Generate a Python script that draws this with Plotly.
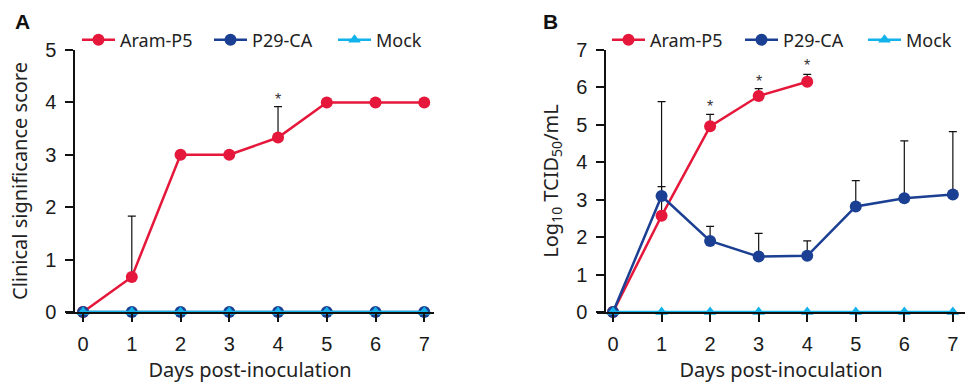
import plotly.graph_objects as go

days = [0, 1, 2, 3, 4, 5, 6, 7]
days_b_aram = [0, 1, 2, 3, 4]

# Panel A: clinical significance score
a_aram = [0, 0.67, 3, 3, 3.33, 4, 4, 4]
a_aram_err = [None, 1.16, None, None, 0.59, None, None, None]
a_p29 = [0, 0, 0, 0, 0, 0, 0, 0]
a_mock = [0, 0, 0, 0, 0, 0, 0, 0]
a_star_days = [4]
a_star_y = [4.05]

# Panel B: Log10 TCID50/mL
b_aram = [0, 2.57, 4.96, 5.77, 6.15]
b_aram_err = [None, 3.05, 0.32, 0.20, 0.20]
b_p29 = [0, 3.10, 1.90, 1.48, 1.50, 2.82, 3.04, 3.14]
b_p29_err = [None, 0.25, 0.39, 0.62, 0.40, 0.69, 1.53, 1.68]
b_mock = [0, 0, 0, 0, 0, 0, 0, 0]
b_star_days = [2, 3, 4]
b_star_y = [5.49, 6.16, 6.58]

legend_names = ["Aram-P5", "P29-CA", "Mock"]

RED = "#E5173A"
BLUE = "#1B3F93"
CYAN = "#12B2EA"
TICKFONT = dict(family="Liberation Sans, Arial", size=20, color="#1a1a1a")
TITLEFONT = dict(family="Noto Sans", size=20, color="#222")
LEGFONT = dict(family="Noto Sans", size=18, color="#222")

W, H = 968, 384
def px(x):
    return x / W
def py(y):
    return 1 - y / H

fig = go.Figure()

def add_series(xa, ya, x, y, err, color, name, symbol, legend, lw, size=12):
    ekw = {}
    if err is not None:
        ekw = dict(error_y=dict(type="data", symmetric=False, array=err,
                                arrayminus=[0 if e is not None else None for e in err],
                                color="#111", thickness=1.2, width=4))
    fig.add_trace(go.Scatter(
        x=x, y=y, mode="lines+markers", name=name, xaxis=xa, yaxis=ya,
        line=dict(color=color, width=2.5),
        marker=dict(color=color, size=size, symbol=symbol),
        cliponaxis=False, legend=legend, legendwidth=lw, **ekw))

add_series("x", "y", days, a_aram, a_aram_err, RED, legend_names[0], "circle", "legend", 84)
add_series("x", "y", days, a_p29, None, BLUE, legend_names[1], "circle", "legend", 76)
add_series("x", "y", days, a_mock, None, CYAN, legend_names[2], "triangle-up", "legend", None, size=11)

add_series("x2", "y2", days_b_aram, b_aram, b_aram_err, RED, legend_names[0], "circle", "legend2", 85)
add_series("x2", "y2", days, b_p29, b_p29_err, BLUE, legend_names[1], "circle", "legend2", 75)
add_series("x2", "y2", days, b_mock, None, CYAN, legend_names[2], "triangle-up", "legend2", None, size=11)

STARFONT = dict(family="Liberation Sans", size=16, color="#333")
annotations = []
for d, yv in zip(a_star_days, a_star_y):
    annotations.append(dict(x=d, y=yv, xref="x", yref="y", text="*", showarrow=False, font=STARFONT))
for d, yv in zip(b_star_days, b_star_y):
    annotations.append(dict(x=d, y=yv, xref="x2", yref="y2", text="*", showarrow=False, font=STARFONT))
annotations.append(dict(x=px(22), y=py(21), xref="paper", yref="paper", text="<b>A</b>",
                        xanchor="center", yanchor="middle", showarrow=False,
                        font=dict(family="Liberation Sans", size=21, color="#111")))
annotations.append(dict(x=px(550), y=py(21), xref="paper", yref="paper", text="<b>B</b>",
                        xanchor="center", yanchor="middle", showarrow=False,
                        font=dict(family="Liberation Sans", size=21, color="#111")))

xcommon = dict(showline=True, linecolor="#111", linewidth=1.5, ticks="outside", ticklen=8,
               tickcolor="#111", tickwidth=1.5, tickfont=TICKFONT, tickvals=days,
               ticklabelstandoff=5,
               showgrid=False, zeroline=False, automargin=False,
               title=dict(text="Days post-inoculation", font=TITLEFONT, standoff=9))
ycommon = dict(showline=True, linecolor="#111", linewidth=1.5, ticks="outside", ticklen=8,
               tickcolor="#111", tickwidth=1.5, tickfont=TICKFONT, dtick=1,
               ticklabelstandoff=5,
               showgrid=False, zeroline=False, automargin=False, anchor="free")

fig.update_layout(
    width=W, height=H, margin=dict(l=0, r=0, t=0, b=0),
    paper_bgcolor="white", plot_bgcolor="white",
    xaxis=dict(domain=[px(66), px(434)], range=[-0.35, 7.2], anchor="y", **xcommon),
    yaxis=dict(domain=[py(312), py(50)], range=[0, 5], position=px(74),
               title=dict(text="Clinical significance score", font=TITLEFONT, standoff=11),
               **ycommon),
    xaxis2=dict(domain=[px(597), px(965)], range=[-0.33, 7.25], anchor="y2", **xcommon),
    yaxis2=dict(domain=[py(312), py(50)], range=[0, 7], position=px(605),
                title=dict(text="Log<sub>10</sub> TCID<sub>50</sub>/mL", font=TITLEFONT, standoff=11),
                **ycommon),
    legend=dict(orientation="h", x=px(77), y=py(40), xanchor="left", yanchor="middle",
                font=LEGFONT, bgcolor="rgba(0,0,0,0)", itemwidth=33),
    legend2=dict(orientation="h", x=px(607), y=py(40), xanchor="left", yanchor="middle",
                 font=LEGFONT, bgcolor="rgba(0,0,0,0)", itemwidth=33),
    annotations=annotations,
    showlegend=True,
)

fig.write_html("out.html", config={"displayModeBar": False},
               post_script="document.body.style.margin='0px';")
